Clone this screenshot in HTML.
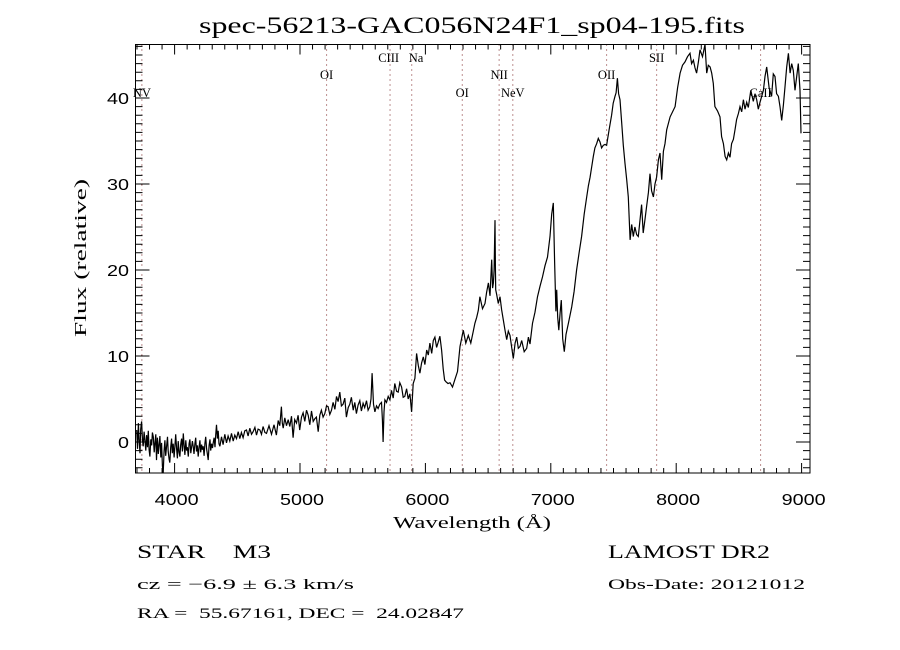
<!DOCTYPE html>
<html><head><meta charset="utf-8"><style>
html,body{margin:0;padding:0;background:#fff;}
svg{display:block;}
.s{font-family:"Liberation Serif",serif;fill:#000;white-space:pre;}
.t{font-family:"Liberation Sans",sans-serif;fill:#000;}
</style></head><body>
<svg id="chart" width="900" height="650" viewBox="0 0 900 650" xmlns="http://www.w3.org/2000/svg" xml:space="preserve">
<rect x="0" y="0" width="900" height="650" fill="#fff"/>
<text class="s" x="472" y="33" font-size="23" text-anchor="middle" textLength="546" lengthAdjust="spacingAndGlyphs">spec-56213-GAC056N24F1_sp04-195.fits</text>
<g id="lines"></g>
<g id="spec"></g>
<g id="axes"></g>
<rect x="135.5" y="44.5" width="674.5" height="428.5" fill="none" stroke="#000" stroke-width="1"/>
<text class="s" x="472" y="528" font-size="17" text-anchor="middle" textLength="158" lengthAdjust="spacingAndGlyphs">Wavelength (Å)</text>
<text class="s" x="0" y="0" font-size="17" text-anchor="middle" transform="translate(86,258) rotate(-90)" textLength="158" lengthAdjust="spacingAndGlyphs">Flux (relative)</text>
<text class="s" x="137" y="558" font-size="19" textLength="134" lengthAdjust="spacingAndGlyphs">STAR    M3</text>
<text class="s" x="137" y="589" font-size="15" textLength="217" lengthAdjust="spacingAndGlyphs">cz = −6.9 ± 6.3 km/s</text>
<text class="s" x="137" y="618" font-size="15" textLength="327" lengthAdjust="spacingAndGlyphs">RA =  55.67161, DEC =  24.02847</text>
<text class="s" x="608" y="558" font-size="19" textLength="162" lengthAdjust="spacingAndGlyphs">LAMOST DR2</text>
<text class="s" x="608" y="589" font-size="15" textLength="197" lengthAdjust="spacingAndGlyphs">Obs-Date: 20121012</text>
</svg>
<script>
// spectrum samples: [wavelength (Å), flux]
var specBlue = [[3698,1.4],[3704,-0.8],[3711,2.2],[3717,0.3],[3724,-1.3],[3730,1.5],[3737,2.4],[3744,0.2],[3750,-0.5],[3757,1.2],[3764,0.1],[3770,-1.0],[3777,0.8],[3784,-0.6],[3790,1.3],[3797,-0.9],[3803,-1.7],[3810,0.3],[3817,-0.4],[3823,1.1],[3830,0.6],[3837,-1.2],[3843,-0.2],[3850,0.9],[3856,-2.1],[3863,0.5],[3870,-1.4],[3876,-0.3],[3883,0.7],[3890,-1.8],[3896,-0.1],[3903,-2.8],[3909,-3.6],[3916,-1.0],[3923,0.2],[3929,-1.6],[3936,-0.5],[3943,0.6],[3949,-1.1],[3956,-2.0],[3962,-2.4],[3969,-0.6],[3976,0.4],[3982,-1.3],[3989,-0.2],[3996,-1.8],[4002,-0.5],[4009,0.9],[4016,-0.8],[4022,-1.9],[4029,0.1],[4036,-1.2],[4042,-1.7],[4049,-0.3],[4056,0.4],[4062,-1.1],[4069,1.0],[4076,-0.4],[4082,-1.5],[4089,0.2],[4096,-1.0],[4102,-0.6],[4109,-1.7],[4116,-0.2],[4122,0.3],[4129,-1.3],[4136,-0.5],[4142,0.1],[4148,-0.5],[4155,-1.4],[4162,-0.2],[4168,0.5],[4175,-1.1],[4182,-0.4],[4188,-1.7],[4195,-0.6],[4202,0.2],[4208,-1.2],[4215,-0.3],[4222,-0.9],[4228,-0.5],[4235,-1.6],[4242,-0.2],[4248,0.6],[4255,-0.8],[4262,-1.5],[4268,-2.1],[4275,-0.4],[4282,0.3],[4288,-1.0],[4295,-0.2],[4302,-0.7],[4308,-0.1],[4315,0.5],[4322,-0.6],[4328,0.8],[4334,2.0],[4341,0.4],[4348,1.3],[4354,-0.2],[4361,-0.5]];
var specGreen = [[4374,0.6],[4387,-0.3],[4400,0.9],[4414,-0.1],[4427,0.7],[4440,0.1],[4454,1.0],[4467,0.1],[4480,0.8],[4494,0.4],[4507,1.2],[4520,0.4],[4533,1.1],[4546,0.5],[4560,1.3],[4573,1.4],[4586,0.7],[4600,1.6],[4613,0.9],[4626,1.2],[4640,1.7],[4653,0.8],[4666,1.5],[4680,1.4],[4693,0.9],[4706,1.8],[4720,1.1],[4733,1.0],[4753,1.9],[4773,0.9],[4793,2.0],[4812,0.8],[4826,2.5],[4839,1.9],[4852,4.1],[4859,2.2],[4866,1.6],[4879,2.8],[4892,1.9],[4906,2.6],[4919,1.8],[4932,3.0],[4945,0.5],[4958,2.6],[4972,2.2],[4985,3.1],[4998,1.4],[5012,2.9],[5025,3.4],[5038,2.4],[5052,3.7],[5065,3.1],[5078,2.0],[5092,3.6],[5105,2.4],[5118,2.7],[5131,2.9],[5145,1.2],[5158,3.1],[5171,3.7],[5184,2.9],[5198,3.3],[5211,4.2],[5224,4.1],[5238,3.2],[5251,3.7],[5264,4.6],[5278,3.8],[5291,5.3],[5304,4.7],[5317,5.8],[5330,4.2],[5344,4.4],[5357,5.1],[5370,2.9],[5384,4.0],[5397,4.4],[5410,5.2],[5424,3.7],[5437,4.6],[5450,3.3],[5463,4.3],[5477,4.8],[5490,3.6],[5503,4.5],[5516,4.0],[5530,4.8],[5543,3.7],[5557,4.1],[5566,5.0],[5575,8.0],[5586,4.4],[5597,3.5],[5610,4.2],[5623,3.9],[5636,4.4],[5650,4.6],[5657,2.6],[5663,0.0],[5670,3.5],[5677,4.9],[5690,4.6],[5703,5.3],[5717,4.9],[5730,6.0],[5743,5.1],[5756,6.8],[5770,5.9],[5783,5.8],[5796,6.9],[5810,6.4],[5823,5.2],[5836,5.3],[5850,6.2],[5863,5.0],[5876,5.6],[5890,3.5],[5903,6.8]];
var specRed = [[5916,7.4],[5930,10.3],[5943,8.9],[5956,8.0],[5970,9.2],[5983,9.9],[5996,9.0],[6010,10.7],[6023,10.1],[6036,11.5],[6050,10.3],[6063,11.8],[6076,12.2],[6089,11.0],[6102,11.6],[6116,12.3],[6129,10.7],[6142,8.5],[6153,7.2],[6164,7.0],[6180,6.8],[6196,6.9],[6216,6.4],[6236,7.3],[6256,8.2],[6276,11.1],[6302,13.0],[6322,11.5],[6342,12.4],[6362,11.5],[6382,12.9],[6395,13.8],[6409,14.5],[6422,15.3],[6435,16.9],[6455,15.5],[6475,16.1],[6488,17.4],[6502,18.5],[6515,17.0],[6529,21.2],[6536,17.9],[6542,18.5],[6548,20.0],[6555,25.8],[6558,20.5],[6561,17.7],[6568,17.2],[6581,16.1],[6595,16.9],[6608,15.4],[6621,14.2],[6635,13.0],[6648,11.9],[6661,12.9],[6675,12.4],[6688,11.0],[6701,9.7],[6715,11.5],[6728,12.2],[6741,10.9],[6754,11.1],[6768,11.8],[6788,10.5],[6808,10.9],[6821,12.2],[6834,11.4],[6854,13.8],[6874,15.1],[6894,16.9],[6914,18.1],[6934,19.2],[6954,20.5],[6974,21.5],[6994,23.9],[7007,26.5],[7020,27.8],[7030,21.0],[7041,15.2],[7047,17.7],[7055,14.5],[7064,13.0],[7074,15.0],[7084,16.5],[7095,12.0],[7108,10.5],[7121,12.5],[7140,13.8],[7167,15.7],[7186,17.5],[7206,20.0],[7226,22.0],[7246,23.9],[7266,26.5],[7286,28.5]];
var specIR = [[7300,29.8],[7313,30.8],[7326,32.0],[7339,33.2],[7352,34.2],[7366,34.7],[7379,35.3],[7392,34.9],[7405,34.2],[7419,34.5],[7432,34.6],[7445,34.5],[7465,36.3],[7485,38.0],[7498,39.4],[7512,40.2],[7521,40.6],[7531,42.3],[7541,40.5],[7552,39.8],[7565,37.1],[7578,34.5],[7592,32.4],[7605,30.5],[7618,28.5],[7632,23.5],[7645,25.3],[7658,23.9],[7671,25.0],[7685,24.1],[7698,23.9],[7711,25.8],[7724,27.6],[7737,24.3],[7751,25.9],[7764,27.4],[7778,29.0],[7791,31.2],[7804,29.2],[7818,28.5],[7831,30.0],[7844,30.8],[7858,32.8],[7871,33.6],[7884,30.5],[7898,33.8],[7911,34.7],[7924,36.3],[7951,37.8],[7991,39.0],[8011,41.2],[8031,42.9],[8050,43.8],[8070,44.2],[8090,44.8],[8110,45.2],[8123,44.0],[8137,44.4],[8150,43.5],[8163,42.9],[8177,44.2],[8190,45.6],[8210,44.8],[8230,46.4],[8243,42.9],[8256,43.8],[8270,43.6],[8283,42.9],[8296,41.7],[8309,39.0],[8329,38.5],[8349,37.8],[8362,35.5],[8376,34.7],[8390,33.2],[8403,32.8],[8416,33.6],[8429,33.1],[8442,34.7],[8456,35.2],[8469,36.3],[8482,37.5],[8496,38.2],[8509,39.0],[8522,38.4],[8536,39.8],[8549,38.7],[8562,39.5],[8575,38.9],[8595,40.9],[8615,39.6],[8628,40.5],[8642,39.8],[8655,38.7],[8668,39.5],[8682,40.2],[8695,40.9],[8708,42.5],[8722,43.6],[8741,41.2],[8761,40.2],[8774,42.8],[8788,42.5],[8801,40.5],[8815,40.2],[8828,39.0],[8841,37.4],[8855,39.2],[8868,41.3],[8881,43.6],[8895,45.2],[8908,42.9],[8921,44.0],[8934,43.2],[8947,40.9],[8961,42.5],[8974,44.0],[8987,40.9],[8995,35.9]];
var lineNames = ["NV","OI","CIII","Na","OI","NII","NeV","OII","SII","CaII"];
var lineWaves = [3739,5212,5718,5891,6294,6588,6697,7445,7844,8673];
var lineRows = [2,1,0,0,2,1,2,1,0,2];
var xTickValues = [4000,5000,6000,7000,8000,9000];
var yTickValues = [0,10,20,30,40];

var NS = "http://www.w3.org/2000/svg";
var X0 = 135.5, X1 = 810, Y0 = 44.5, Y1 = 473;
function xs(w){ return 300 + (w - 5000) * 0.1254; }
function ys(f){ return 442 - f * 8.6; }
var wMin = 5000 + (X0 - 300) / 0.1254, wMax = 5000 + (X1 - 300) / 0.1254;
var fMin = (442 - Y1) / 8.6, fMax = (442 - Y0) / 8.6;
function mk(tag, attrs, parent){ var e = document.createElementNS(NS, tag); for (var k in attrs) e.setAttribute(k, attrs[k]); parent.appendChild(e); return e; }

var lg = document.getElementById('lines');
var rowY = [62, 79, 97];
for (var i = 0; i < lineWaves.length; i++) {
  var lx = xs(lineWaves[i]);
  var ln = mk('line', {x1: lx, x2: lx, y1: Y0, y2: Y1, stroke: '#7a2020', 'stroke-width': 1, 'stroke-dasharray': '1 4'}, lg);
  
  
  var anchor = 'middle', px = lx;
  if (lineNames[i] === 'CIII') { anchor = 'end'; px = lx + 9; }
  if (lineNames[i] === 'Na') { anchor = 'start'; px = lx - 3; }
  var tx = mk('text', {x: px, y: rowY[lineRows[i]], 'font-size': 12.5, 'text-anchor': anchor, 'class': 's'}, lg);
  tx.textContent = lineNames[i];
  
  
}

var sg = document.getElementById('spec');
var samples = specBlue.concat(specGreen, specRed, specIR);
var pts = [];
for (var j = 0; j < samples.length; j++) {
  var f = Math.max(fMin, Math.min(fMax, samples[j][1]));
  pts.push(xs(samples[j][0]).toFixed(1) + ',' + ys(f).toFixed(1));
}
var pl = mk('polyline', {points: pts.join(' '), fill: 'none', stroke: '#000', 'stroke-width': 1.2, 'stroke-linejoin': 'miter'}, sg);



var ag = document.getElementById('axes');
var tickPath = '';
for (var w = 3700; w <= wMax; w += 100) {
  if (w < wMin) continue;
  var tx2 = xs(w), major = (w % 1000 === 0), L = major ? 10 : 5;
  tickPath += 'M' + tx2 + ',' + Y1 + 'V' + (Y1 - L) + 'M' + tx2 + ',' + Y0 + 'V' + (Y0 + L);
}
for (var v = -3; v <= fMax; v += 1) {
  var ty = ys(v), maj = (v % 10 === 0), L2 = maj ? 14 : 7;
  tickPath += 'M' + X0 + ',' + ty + 'H' + (X0 + L2) + 'M' + X1 + ',' + ty + 'H' + (X1 - L2);
}
var tp = mk('path', {d: tickPath, stroke: '#000', 'stroke-width': 1, fill: 'none'}, ag);


for (var a = 0; a < xTickValues.length; a++) {
  var t = mk('text', {x: xs(xTickValues[a]) + 2, y: 505, 'font-size': 16, 'text-anchor': 'middle', 'class': 't', textLength: 44, lengthAdjust: 'spacingAndGlyphs'}, ag);
  t.textContent = xTickValues[a];
  
  
}
for (var b = 0; b < yTickValues.length; b++) {
  var s = String(yTickValues[b]);
  var t2 = mk('text', {x: 129, y: ys(yTickValues[b]) + 6, 'font-size': 16, 'text-anchor': 'end', 'class': 't', textLength: s.length * 11, lengthAdjust: 'spacingAndGlyphs'}, ag);
  t2.textContent = s;
  
  
}
</script>
</body></html>
